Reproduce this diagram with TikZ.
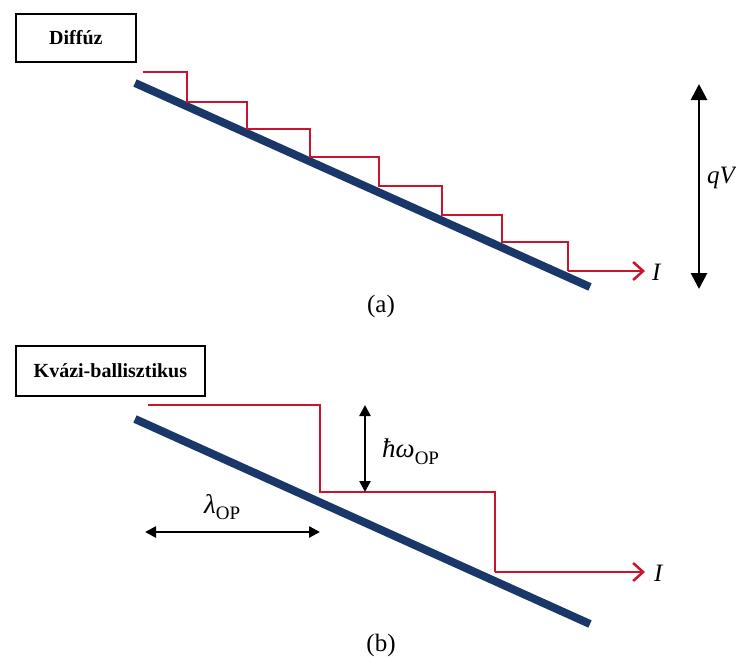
\documentclass[tikz,border=0pt]{standalone}
\usepackage{fontspec}
\setmainfont{Liberation Serif}
\usetikzlibrary{arrows.meta}
\definecolor{stairred}{RGB}{200,20,45}
\definecolor{bandblue}{RGB}{25,55,105}
\newcommand{\subOP}{\raisebox{-0.25em}{\upshape\fontsize{19}{20}\selectfont OP}}
\begin{document}
\begin{tikzpicture}[x=1pt,y=-1pt,
  labelbox/.style={draw=black,line width=1.8pt,fill=white,font=\bfseries\fontsize{20}{22}\selectfont,inner sep=0pt,anchor=north west},
  band/.style={draw=bandblue,line width=8pt},
  stair/.style={draw=stairred,line width=2.5pt},
  redarrow/.style={stair,-{Straight Barb[length=10pt,width=18pt,line width=2.5pt]}},
  dimarrow/.style={draw=black,line width=2.5pt,{Triangle[length=11pt,width=11pt]}-{Triangle[length=11pt,width=11pt]}},
  bigarrow/.style={draw=black,line width=2.8pt,{Triangle[length=16pt,width=16pt]}-{Triangle[length=16pt,width=16pt]}},
  lbl/.style={font=\fontsize{25}{27}\selectfont\itshape,inner sep=0pt},
  greek/.style={font=\fontsize{27}{29}\selectfont\itshape,inner sep=0pt},
  captext/.style={font=\fontsize{25}{27}\selectfont,inner sep=0pt}
]
\useasboundingbox (0,0) rectangle (736,656);
% ---------- (a) ----------
\node[labelbox,minimum width=120pt,minimum height=48pt] (diff) at (15,13) {Diffúz};
\coordinate (b1) at (135,83);
\coordinate (b2) at (590,287);
\draw[band] (b1) -- (b2);
\coordinate (s0) at (143,72);
\draw[stair] (s0) -| (187,102) -| (247,129) -| (310,157) -| (379,186) -| (442,215) -| (502,242) -| (568,271) coordinate (s8);
\coordinate (aend) at (645,271);
\draw[redarrow] (s8) -- (aend);
\node[lbl,anchor=west] (Ia) at (652,272) {I};
\coordinate (qt) at (699,84);
\coordinate (qb) at (699,289);
\draw[bigarrow] (qt) -- (qb);
\node[lbl,anchor=west] (qV) at (707,178) {qV};
\node[captext] (capa) at (381,306) {(a)};
% ---------- (b) ----------
\node[labelbox,minimum width=189pt,minimum height=50pt] (kvazi) at (15,345) {Kvázi-ballisztikus};
\coordinate (c1) at (135,419);
\coordinate (c2) at (590,624);
\draw[band] (c1) -- (c2);
\coordinate (t0) at (148,405);
\coordinate (t1) at (320,405);
\coordinate (t2) at (320,492);
\coordinate (t3) at (495,492);
\coordinate (t4) at (495,572);
\coordinate (bend) at (645,572);
\draw[stair] (t0) -- (t1) -- (t2) -- (t3) -- (t4);
\draw[redarrow] (t4) -- (bend);
\node[lbl,anchor=west] (Ib) at (654,573) {I};
\coordinate (ht) at (365,405);
\coordinate (hb) at (365,492);
\draw[dimarrow] (ht) -- (hb);
\node[greek,anchor=west] (hw) at (382,452) {ħω\subOP};
\coordinate (ll) at (145,532);
\coordinate (lr) at (320,532);
\draw[dimarrow] (ll) -- (lr);
\node[greek,anchor=west] (lam) at (204,507) {λ\subOP};
\node[captext] (capb) at (381,645) {(b)};
\end{tikzpicture}
\end{document}
